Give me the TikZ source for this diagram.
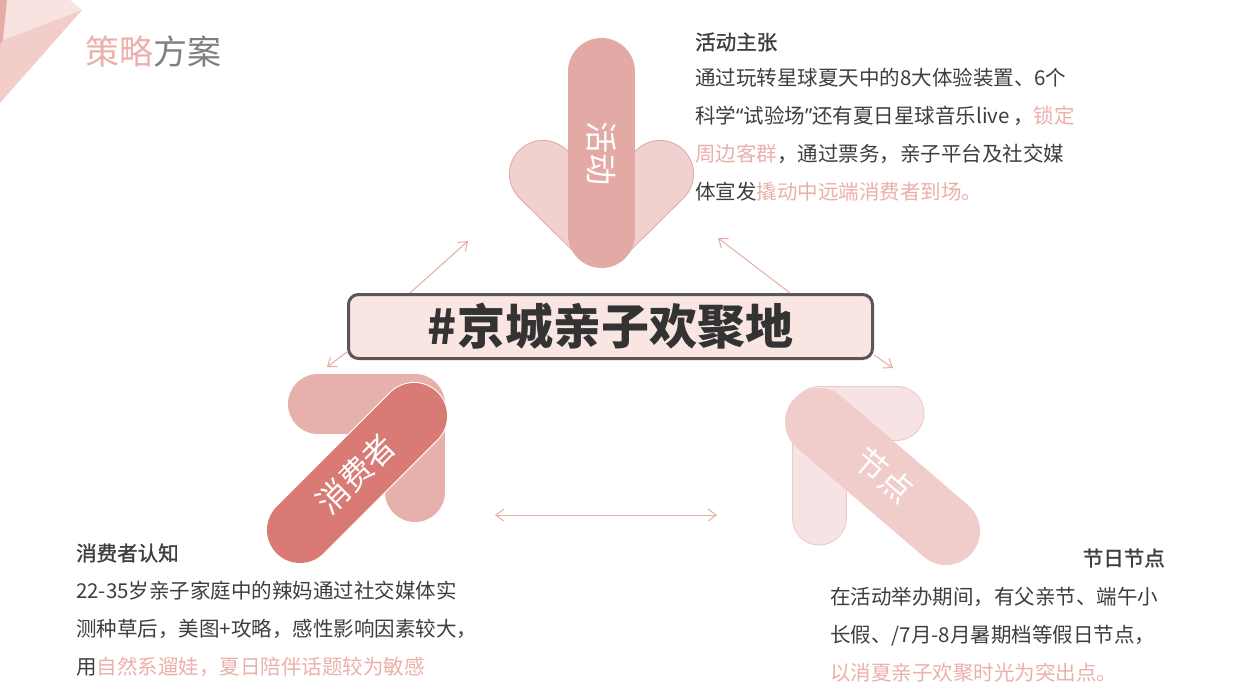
\documentclass[tikz,border=0pt]{standalone}
\usepackage{fontspec}
\setmainfont{Noto Sans CJK SC}
\newfontfamily\cjkmed{Noto Sans CJK SC}[FakeBold=1.2]
\newfontfamily\latinq{Noto Sans}
\usetikzlibrary{arrows.meta, positioning, calc}

\definecolor{pinktext}{HTML}{EBB0AA}
\definecolor{darktext}{HTML}{3E3E3E}
\definecolor{titlegray}{HTML}{7F7F7F}
\definecolor{boxline}{HTML}{5E5656}
\definecolor{boxfill}{HTML}{F9E5E2}
\definecolor{maintext}{HTML}{333333}
\definecolor{actpill}{HTML}{E3A9A4}
\definecolor{chevfill}{HTML}{F0D1CF}
\definecolor{chevline}{HTML}{E3A9A4}
\definecolor{conback}{HTML}{E6B1AB}
\definecolor{conpill}{HTML}{D97A75}
\definecolor{ndback}{HTML}{F7E3E4}
\definecolor{ndline}{HTML}{EDCACA}
\definecolor{ndpill}{HTML}{F0CDCB}
\definecolor{linkcol}{HTML}{E8ACA6}
\definecolor{decopale}{HTML}{F9E3E1}
\definecolor{decomid}{HTML}{F2CDCA}
\definecolor{decodark}{HTML}{E6ADA6}

\newcommand\pinkhl[1]{\textcolor{pinktext}{#1}}

\begin{document}
\begin{tikzpicture}[
    x=1pt, y=-1pt,
    pill/.style={line cap=round, line join=round},
    link/.style={draw=linkcol, line width=1pt, -{Straight Barb[length=8pt, width=12pt]}},
    badge/.style={text=white, inner sep=0, font=\fontsize{32}{34}\selectfont},
    headline/.style={anchor=west, inner sep=0, text=darktext, font=\fontsize{20.5}{24}\selectfont\cjkmed},
    para/.style={anchor=west, align=left, inner sep=0, text=darktext, font=\fontsize{20.5}{38}\selectfont}
  ]
  \useasboundingbox (0,0) rectangle (1240,697);
  \fill[white] (0,0) rectangle (1240,697);

  % corner decoration
  \fill[decopale] (7,0) -- (70,0) -- (82,10) -- (3,40) -- cycle;
  \fill[decomid] (3,40) -- (82,10) -- (0,103) -- (0,45) -- cycle;
  \fill[decodark] (0,0) -- (7,0) -- (3,40) -- (0,45) -- cycle;

  \node[anchor=west, inner sep=0, font=\fontsize{34}{40}\selectfont] (title) at (85,52)
    {\textcolor{pinktext}{策略}\textcolor{titlegray}{方案}};

  % coordinates of the arrows
  \coordinate (actL) at (543,174);
  \coordinate (actV) at (601.5,232);
  \coordinate (actR) at (660,174);
  \coordinate (actTop) at (601.5,71.5);
  \coordinate (actBot) at (601.5,234.5);
  \coordinate (conA) at (318,404);
  \coordinate (conB) at (415,404);
  \coordinate (conC) at (415,492);
  \coordinate (conD1) at (300,530);
  \coordinate (conD2) at (414,416);
  \coordinate (ndA) at (897,413);
  \coordinate (ndB) at (819,413);
  \coordinate (ndC) at (819,518);
  \coordinate (ndD1) at (819,422);
  \coordinate (ndD2) at (946,531);

  % activity arrow
  \draw[pill, draw=chevline, line width=68pt] (actL) -- (actV) -- (actR);
  \draw[pill, draw=chevfill, line width=66pt] (actL) -- (actV) -- (actR);
  \draw[pill, draw=actpill, line width=67pt] (actTop) -- (actBot);
  \node[badge, rotate=-90] (actLabel) at (601.5,153) {活动};

  % consumer arrow
  \draw[pill, draw=conback, line width=60pt] (conA) -- (conB) -- (conC);
  \draw[pill, draw=white, line width=68pt] (conD1) -- (conD2);
  \draw[pill, draw=conpill, line width=66pt] (conD1) -- (conD2);
  \node[badge, rotate=45] (conLabel) at (356,474) {消费者};

  % holiday arrow
  \draw[pill, draw=ndline, line width=55pt] (ndA) -- (ndB) -- (ndC);
  \draw[pill, draw=ndback, line width=53pt] (ndA) -- (ndB) -- (ndC);
  \draw[pill, draw=ndpill, line width=68pt] (ndD1) -- (ndD2);
  \node[badge, rotate=-40.6] (ndLabel) at (884,475) {节点};

  % theme
  \node[draw=boxline, fill=boxfill, line width=3pt, rounded corners=10pt,
        minimum width=524pt, minimum height=64pt, inner sep=0, text=maintext,
        font=\fontsize{48}{50}\selectfont\bfseries] (theme) at (610.5,326.5) {\#京城亲子欢聚地};

  \coordinate (actTipL) at (468,241);
  \coordinate (actTipR) at (718,238);
  \coordinate (conTip) at (327,367);
  \coordinate (ndTip) at (893,368);
  \coordinate (lnkL) at (495,515);
  \coordinate (lnkR) at (717,515);
  \draw[link] ([xshift=63pt]theme.north west) -- (actTipL);
  \draw[link] ([xshift=-84pt]theme.north east) -- (actTipR);
  \draw[link] ([yshift=8pt]theme.south west) -- (conTip);
  \draw[link] ([yshift=5pt]theme.south east) -- (ndTip);
  \draw[link, {Straight Barb[length=8pt, width=12pt]}-{Straight Barb[length=8pt, width=12pt]}] (lnkL) -- (lnkR);

  % texts
  \node[headline] (actHead) at (695,42) {活动主张};
  \node[para] (actText) at (695,135) {通过玩转星球夏天中的8大体验装置、6个\\
    科学{\latinq “}试验场{\latinq ”}还有夏日星球音乐live\,，\pinkhl{锁定}\\
    \pinkhl{周边客群}，通过票务，亲子平台及社交媒\\
    体宣发\pinkhl{撬动中远端消费者到场。}};

  \node[headline] (conHead) at (76,553) {消费者认知};
  \node[para] (conText) at (76,628.5) {22-35岁亲子家庭中的辣妈通过社交媒体实\\
    测种草后，美图+攻略，感性影响因素较大，\\
    用\pinkhl{自然系遛娃，夏日陪伴话题较为敏感}};

  \node[headline, anchor=east] (ndHead) at (1165,558) {节日节点};
  \node[para] (ndText) at (830,635) {在活动举办期间，有父亲节、端午小\\
    长假、/7月-8月暑期档等假日节点，\\
    \pinkhl{以消夏亲子欢聚时光为突出点。}};
\end{tikzpicture}
\end{document}
